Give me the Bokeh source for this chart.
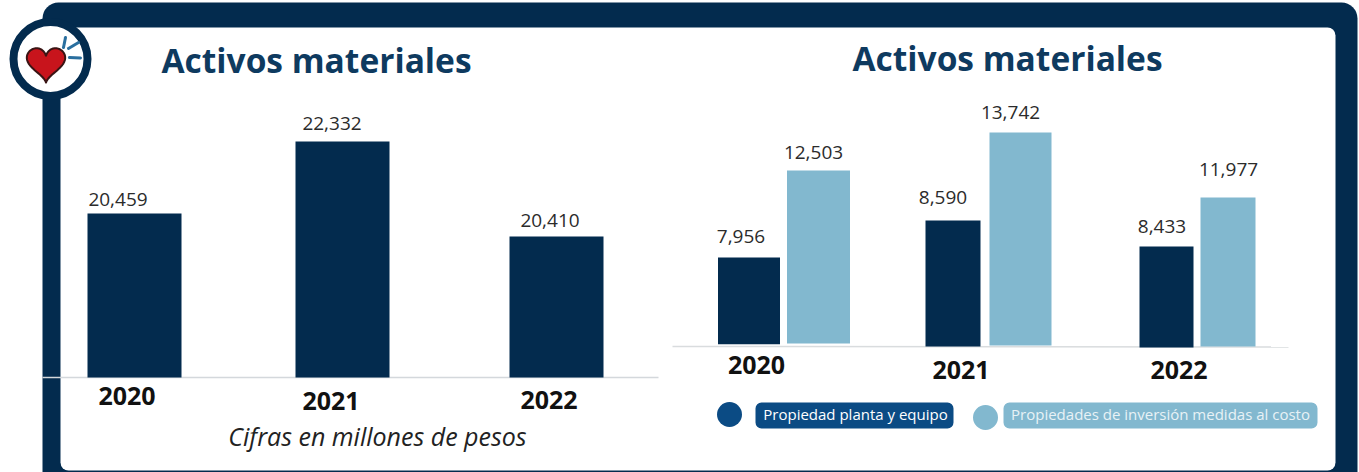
import numpy as np
from bokeh.core.properties import value
from bokeh.embed import file_html
from bokeh.models import BoxAnnotation, Range1d
from bokeh.plotting import figure
from bokeh.resources import INLINE

# ---- chart data ----
years = ["2020", "2021", "2022"]
title = "Activos materiales"
note = "Cifras en millones de pesos"
series_names = ["Propiedad planta y equipo", "Propiedades de inversión medidas al costo"]

# printed values
left_values = [20459, 22332, 20410]
dark_values = [7956, 8590, 8433]
light_values = [12503, 13742, 11977]

# bar lengths as drawn in the picture (the picture is not to scale with its labels)
left_drawn = [20459, 22332, 19861]
dark_drawn = [6312, 8936, 7092]
light_drawn = [12482, 15177, 10567]

# ---- layout (page pixels) ----
W, H = 1359, 472
NAVY, LIGHT, PILL = "#032b4e", "#82b8cf", "#0b4b84"
left_cx = [134, 342, 556]
dark_cx = [748.5, 952.5, 1166]
dark_w = [62, 55, 54]
dark_base = [163, 0, -71]
light_cx = [818, 1020, 1227.5]
light_w = [63, 62, 55]
light_base = [213, 71, 0]

# value scales: baseline value and pixels per unit
LS, LB = 0.03844, 16193
RS = 0.0141
ly_end = LB + 377 / LS
ly_start = LB - (H - 377) / LS
ry_end = 346 / RS
ry_start = -(H - 346) / RS

p = figure(width=W, height=H, output_backend="svg", toolbar_location=None,
           x_range=Range1d(0, W), y_range=Range1d(H, 0),
           min_border=0, margin=(0, 0, 0, 0),
           background_fill_color="white", border_fill_color="white", outline_line_color=None)
p.axis.visible = False
p.grid.visible = False
p.extra_y_ranges = {"left": Range1d(ly_start, ly_end), "right": Range1d(ry_start, ry_end)}

# frame
p.add_layout(BoxAnnotation(left=42, right=1357, top=2, bottom=H + 20, fill_color=NAVY, fill_alpha=1,
                           line_color=None, border_radius=16, level="underlay"))
p.add_layout(BoxAnnotation(left=60, right=1335, top=27, bottom=470, fill_color="white", fill_alpha=1,
                           line_color=None, border_radius=8, level="underlay"))

# baselines
p.line([42, 658], [377, 377], line_color="#d4d8dc", line_width=1.5)
p.line([672, 1288], [346, 346.6], line_color="#d9dcde", line_width=1.5)

# bars
p.vbar(x=left_cx, width=94, bottom=LB, top=left_drawn, y_range_name="left", fill_color=NAVY, line_color=None)
p.vbar(x=dark_cx, width=dark_w, bottom=dark_base, top=dark_drawn, y_range_name="right", fill_color=NAVY, line_color=None)
p.vbar(x=light_cx, width=light_w, bottom=light_base, top=light_drawn, y_range_name="right", fill_color=LIGHT, line_color=None)


def label(x, y, txt, size, color="#2b2b2b", style="normal", font="Open Sans", align="center"):
    p.text(x=x, y=y, text=txt, text_font=value(font), text_font_size=size, text_color=color,
           text_font_style=style, text_align=align, text_baseline="middle")


# value labels
fmt = lambda vals: [f"{v:,}" for v in vals]
label([117.5, 331.5, 549.5], [198.5, 123, 219.5], fmt(left_values), "19px")
label([740.5, 942.5, 1161.5], [235.5, 196.5, 225.5], fmt(dark_values), "19px")
label([813, 1010, 1228], [152, 112, 169], fmt(light_values), "19px")

# years
label([126.5, 330.5, 548.5], [395, 400, 399], years, "25px", "#111111", "bold")
label([756, 960.5, 1178.5], [364, 369, 369], years, "25px", "#111111", "bold")

# titles and note
label([316, 1007], [59, 57], [title, title], "33.5px", "#0e3a5f", "bold")
label([377], [435], [note], "25px", "#222222", "italic")

# legend
p.scatter([729], [414], size=25, fill_color=PILL, line_color=None)
p.scatter([985], [417], size=25, fill_color=LIGHT, line_color=None)
p.add_layout(BoxAnnotation(left=755, right=953, top=402, bottom=428, fill_color=PILL, fill_alpha=1,
                           line_color=None, border_radius=6, level="underlay"))
p.add_layout(BoxAnnotation(left=1003, right=1317, top=402, bottom=428, fill_color=LIGHT, fill_alpha=1,
                           line_color=None, border_radius=6, level="underlay"))
label([855], [413.5], [series_names[0]], "15px", "#ffffff")
label([1160], [413.5], [series_names[1]], "15px", "#e8f2f6")

# badge with heart
p.scatter([50], [58.5], size=74, fill_color="white", line_color=NAVY, line_width=8)
t = np.linspace(0, 2 * np.pi, 80)
hx = 16 * np.sin(t) ** 3
hy = 13 * np.cos(t) - 5 * np.cos(2 * t) - 2 * np.cos(3 * t) - np.cos(4 * t)
p.patch(45.5 + hx * 1.2, 62 - hy * 1.2, fill_color="#c8141c", line_color="#3a1414", line_width=2)
p.multi_line([[63, 65], [68, 78], [69, 80]], [[47, 37], [48, 42], [57, 57.5]], line_color="#2a6f9f", line_width=3, line_cap="round")

open("out.html", "w").write(file_html(p, INLINE))
